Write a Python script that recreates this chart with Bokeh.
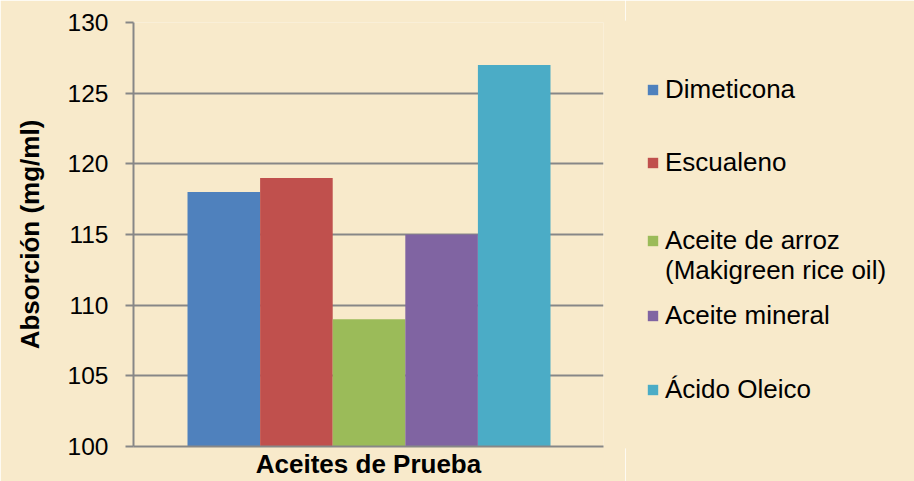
from bokeh.plotting import figure
from bokeh.models import Range1d, Legend, LegendItem, ColumnDataSource, FixedTicker
from bokeh.layouts import row
from bokeh.embed import file_html
from bokeh.resources import INLINE

categories = ["Dimeticona", "Escualeno", "Aceite de arroz\n(Makigreen rice oil)", "Aceite mineral", "Ácido Oleico"]
values = [118, 119, 109, 115, 127]
colors = ["#4F81BD", "#C0504D", "#9BBB59", "#8064A2", "#4BACC6"]
y_ticks = [100, 105, 110, 115, 120, 125, 130]

BG = "#F8EACB"
GRID = "#878787"
FONT = "Liberation Sans"

p = figure(width=625, height=481, output_backend="svg", toolbar_location=None,
           x_range=Range1d(-1.244, 5.23), y_range=Range1d(100, 130),
           min_border_left=133, min_border_right=22, min_border_top=22, min_border_bottom=33)
p.background_fill_color = BG
p.border_fill_color = BG
p.outline_line_color = None

for i, (v, col) in enumerate(zip(values, colors)):
    src = ColumnDataSource(dict(x=[i], top=[v]))
    p.vbar(x="x", top="top", bottom=100, width=1.0, source=src, fill_color=col, line_color=None)

p.xgrid.visible = False
p.ygrid.grid_line_color = GRID
p.ygrid.grid_line_width = 2
p.yaxis.ticker = FixedTicker(ticks=y_ticks)
p.yaxis.axis_line_color = GRID
p.yaxis.axis_line_width = 2
p.yaxis.major_tick_line_color = GRID
p.yaxis.major_tick_line_width = 2
p.yaxis.major_tick_out = 8
p.yaxis.major_tick_in = 0
p.yaxis.minor_tick_line_color = None
p.yaxis.major_label_text_font = FONT
p.yaxis.major_label_text_font_size = "24.5px"
p.yaxis.major_label_text_color = "#000000"
p.yaxis.major_label_standoff = 17
p.yaxis.axis_label = "Absorción (mg/ml)"
p.yaxis.axis_label_text_font = FONT
p.yaxis.axis_label_text_font_size = "26px"
p.yaxis.axis_label_text_font_style = "bold"
p.yaxis.axis_label_text_color = "#000000"
p.yaxis.axis_label_standoff = 20

p.xaxis.ticker = FixedTicker(ticks=[])
p.xaxis.axis_line_color = GRID
p.xaxis.axis_line_width = 2
p.xaxis.major_tick_line_color = None
p.xaxis.minor_tick_line_color = None
p.xaxis.major_tick_out = 0
p.xaxis.major_label_standoff = 0
p.xaxis.major_label_text_font_size = "0px"
p.xaxis.axis_label = "Aceites de Prueba"
p.xaxis.axis_label_text_font = FONT
p.xaxis.axis_label_text_font_size = "26px"
p.xaxis.axis_label_text_font_style = "bold"
p.xaxis.axis_label_text_color = "#000000"
p.xaxis.axis_label_standoff = 2

# legend panel
q = figure(width=289, height=481, output_backend="svg", toolbar_location=None,
           x_range=Range1d(0, 1), y_range=Range1d(0, 1),
           min_border=0, x_axis_type=None, y_axis_type=None)
q.background_fill_color = BG
q.border_fill_color = BG
q.outline_line_color = BG
q.outline_line_width = 4
q.grid.visible = False

LINE = 30
ys = [356, 283, 205, 130, 56]
for c, col, yy in zip(categories, colors, ys):
    lines = c.split("\n")
    for k, txt in enumerate(lines):
        src = ColumnDataSource(dict(x=[5], top=[0]))
        r = q.vbar(x="x", top="top", bottom=-1, width=0.1, source=src, fill_color=col,
                   line_color=None, fill_alpha=1.0 if k == 0 else 0.0)
        leg = Legend(items=[LegendItem(label=txt, renderers=[r])], location=(21, yy - 15 - k * LINE),
                     padding=0, margin=0, spacing=0, border_line_alpha=0, background_fill_alpha=0,
                     glyph_width=13, glyph_height=13, label_standoff=6, label_height=30,
                     label_text_font=FONT, label_text_font_size="26px", label_text_color="#000000")
        q.add_layout(leg, "center")

html = file_html(row(p, q), INLINE)
html = html.replace("<body", '<body style="background-color:%s;"' % BG, 1)
open("out.html", "w").write(html)
